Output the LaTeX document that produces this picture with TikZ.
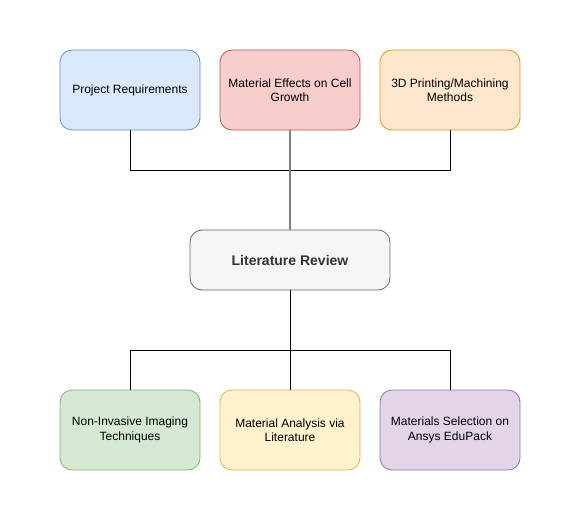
\documentclass[tikz,border=0pt]{standalone}
\usepackage{fontspec}
\setmainfont{Liberation Sans}
\definecolor{bluef}{HTML}{DAE8FC}\definecolor{blued}{HTML}{6C8EBF}
\definecolor{redf}{HTML}{F8CECC}\definecolor{redd}{HTML}{B85450}
\definecolor{orangef}{HTML}{FFE6CC}\definecolor{oranged}{HTML}{D79B00}
\definecolor{greenf}{HTML}{D5E8D4}\definecolor{greend}{HTML}{82B366}
\definecolor{yellowf}{HTML}{FFF2CC}\definecolor{yellowd}{HTML}{D6B656}
\definecolor{purplef}{HTML}{E1D5E7}\definecolor{purpled}{HTML}{9673A6}
\definecolor{grayf}{HTML}{F5F5F5}\definecolor{grayd}{HTML}{666666}
\definecolor{txtgray}{HTML}{333333}
\begin{document}
\begin{tikzpicture}[x=1pt,y=-1pt,
  box/.style={draw, rounded corners=12pt, minimum width=140pt, minimum height=80pt,
    align=center, inner sep=0pt, font=\fontsize{12}{14.5}\selectfont, line width=0.8pt},
  conn/.style={draw=black, line width=1pt},
  mainconn/.style={draw=gray, line width=1.4pt}]
\useasboundingbox (0,0) rectangle (580,511);
\node[box, fill=bluef, draw=blued] (pr) at (130,90) {Project Requirements};
\node[box, fill=redf, draw=redd] (me) at (290,90) {Material Effects on Cell\\Growth};
\node[box, fill=orangef, draw=oranged] (dp) at (450,90) {3D Printing/Machining\\Methods};
\node[box, fill=grayf, draw=grayd, minimum width=200pt, minimum height=60pt,
  text=txtgray, font=\fontsize{14}{17}\selectfont\bfseries] (lr) at (290,260) {Literature Review};
\node[box, fill=greenf, draw=greend] (ni) at (130,430) {Non-Invasive Imaging\\Techniques};
\node[box, fill=yellowf, draw=yellowd] (ma) at (290,430) {Material Analysis via\\Literature};
\node[box, fill=purplef, draw=purpled] (ms) at (450,430) {Materials Selection on\\Ansys EduPack};
\coordinate (tj) at (290,170);
\coordinate (bj) at (290,350);
\draw[conn] (pr.south) |- (tj);
\draw[conn] (dp.south) |- (tj);
\draw[mainconn] (me.south) -- (lr.north);
\draw[conn] (lr.south) -- (bj);
\draw[conn] (bj) -| (ni.north);
\draw[conn] (bj) -- (ma.north);
\draw[conn] (bj) -| (ms.north);
\end{tikzpicture}
\end{document}
